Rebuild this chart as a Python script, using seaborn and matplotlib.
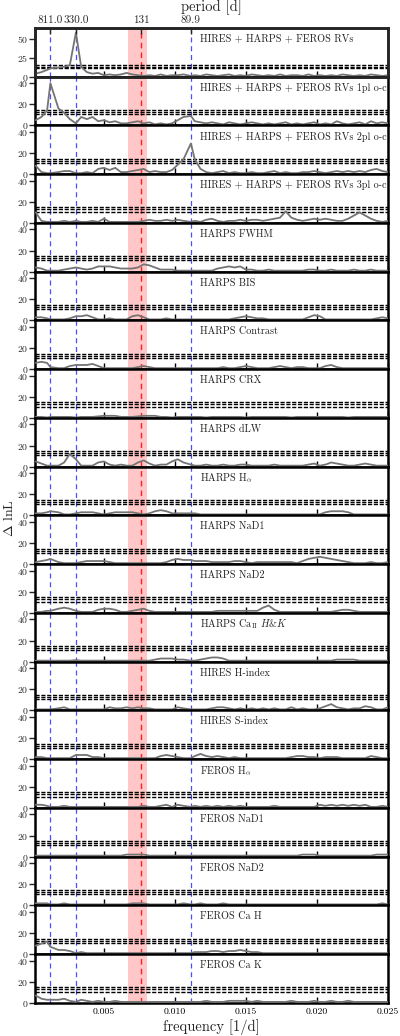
import numpy as np
import pandas as pd
import matplotlib
matplotlib.use('Agg')
import matplotlib.pyplot as plt
import seaborn as sns

sns.set_style('ticks')
plt.rcParams['font.family'] = ['cmr10', 'DejaVu Serif']
plt.rcParams['mathtext.fontset'] = 'cm'
plt.rcParams['axes.formatter.use_mathtext'] = True
plt.rcParams['axes.unicode_minus'] = False

# frequency grid [1/d], with the three signal frequencies on it
freq = np.arange(0.0002, 0.02501, 0.0004)
freq[3], freq[7], freq[27] = 1 / 811.0, 1 / 330.0, 1 / 89.9

periods = [811.0, 330.0, 131, 89.9]
period_labels = ['811.0', '330.0', '131', '89.9']
blue_periods = [811.0, 330.0, 89.9]
red_period = 131
rot_band = (0.0067, 0.00805)
fap_levels = [10.8, 12.8, 14.8]

names = [
    'HIRES + HARPS + FEROS RVs',
    'HIRES + HARPS + FEROS RVs 1pl o-c',
    'HIRES + HARPS + FEROS RVs 2pl o-c',
    'HIRES + HARPS + FEROS RVs 3pl o-c',
    'HARPS FWHM',
    'HARPS BIS',
    'HARPS Contrast',
    'HARPS CRX',
    'HARPS dLW',
    r'HARPS H$_\alpha$',
    'HARPS NaD1',
    'HARPS NaD2',
    r'HARPS Ca$_{\mathrm{II}}$ $H$&$K$',
    'HIRES H-index',
    'HIRES S-index',
    r'FEROS H$_\alpha$',
    'FEROS NaD1',
    'FEROS NaD2',
    'FEROS Ca H',
    'FEROS Ca K',
]

rv_all = [4, 6, 9, 11, 12, 13, 15, 58, 13, 6, 4, 5, 2, 3, 2, 3,
          5, 3, 2, 1, 2, 1, 3, 1, 2, 2, 3, 1, 2, 1, 3, 2,
          1, 2, 3, 1, 2, 1, 3, 2, 1, 2, 1, 3, 1, 2, 2, 1,
          3, 1, 2, 1, 2, 1, 3, 2, 1, 2, 1, 3, 2, 1, 2]
rv_1pl = [5, 8, 14, 40, 16, 12, 6, 2, 8, 6, 8, 4, 5, 3, 4, 2,
          2, 3, 4, 2, 3, 1, 2, 1, 2, 5, 8, 9, 4, 3, 2, 3,
          2, 1, 3, 2, 1, 2, 3, 2, 1, 2, 1, 2, 3, 1, 2, 1,
          2, 3, 1, 2, 1, 4, 2, 1, 2, 3, 1, 4, 2, 3, 2]
rv_2pl = [8, 2, 1, 1, 2, 3, 3, 1, 1, 2, 1, 5, 6, 4, 6, 2,
          2, 3, 4, 5, 2, 3, 2, 2, 4, 9, 14, 29, 14, 5, 2, 1,
          2, 3, 1, 2, 1, 1, 2, 1, 1, 2, 3, 1, 2, 1, 1, 2,
          2, 3, 2, 1, 2, 3, 2, 3, 2, 3, 2, 4, 5, 3, 2]
rv_3pl = [10, 2, 1, 1, 1, 2, 1, 2, 1, 1, 2, 1, 4, 1, 1, 1,
          1, 1, 1, 2, 3, 2, 2, 3, 2, 3, 2, 1, 2, 1, 3, 4,
          2, 1, 2, 2, 3, 2, 3, 3, 2, 3, 4, 5, 11, 5, 3, 2,
          3, 4, 3, 4, 3, 2, 2, 4, 7, 10, 7, 4, 2, 1, 2]
harps_fwhm = [4, 3, 1, 1, 1, 2, 3, 4, 3, 2, 3, 5, 5, 5, 4, 3,
              3, 3, 4, 7, 6, 4, 2, 2, 2, 1, 1, 1, 1, 1, 1, 1,
              3, 4, 5, 4, 5, 2, 2, 1, 1, 2, 1, 1, 1, 1, 1, 1,
              2, 2, 1, 1, 2, 1, 1, 1, 2, 1, 1, 2, 1, 1, 1]
harps_bis = [3, 3, 2, 1, 1, 1, 2, 4, 4, 5, 3, 1, 1, 2, 1, 1,
             1, 4, 5, 3, 1, 1, 1, 2, 1, 1, 1, 1, 1, 1, 1, 1,
             1, 1, 1, 2, 3, 4, 3, 2, 2, 1, 1, 1, 1, 1, 1, 1,
             3, 5, 4, 1, 1, 1, 1, 1, 1, 1, 1, 1, 2, 3, 2]
harps_contrast = [6, 7, 6, 2, 1, 1, 3, 4, 4, 4, 5, 3, 1, 1, 1, 1,
                  1, 1, 2, 3, 2, 1, 1, 1, 1, 1, 1, 1, 1, 1, 1, 1,
                  1, 2, 1, 1, 2, 3, 2, 1, 1, 1, 2, 3, 2, 1, 2, 2,
                  1, 1, 1, 3, 4, 2, 1, 1, 1, 1, 1, 1, 1, 1, 1]
harps_crx = [1, 1, 0.5, 1, 1, 1, 1, 0.5, 1, 1, 1, 1.5, 2, 2, 2, 1,
             1, 1, 1.5, 2, 2, 2, 1, 1, 0.5, 1, 1, 1, 1, 1, 0.5, 1,
             1, 1, 1, 1, 1, 0.5, 1, 1, 1, 1, 1, 1, 1, 0.5, 1, 1,
             1, 1, 1, 1, 1, 1, 1, 0.5, 1, 1, 1, 1, 1, 1, 1]
harps_dlw = [5, 3, 1, 1, 1, 4, 12, 7, 1, 1, 1, 4, 5, 2, 1, 2,
             1, 1, 4, 6, 3, 1, 2, 2, 5, 7, 4, 2, 1, 1, 2, 1,
             1, 2, 1, 1, 2, 2, 1, 1, 1, 1, 2, 1, 1, 1, 1, 1,
             2, 3, 1, 2, 4, 3, 2, 1, 1, 2, 3, 2, 1, 1, 1]
harps_halpha = [2, 2, 3, 4, 3, 1, 1, 2, 3, 3, 3, 2, 1, 2, 3, 3,
                3, 3, 2, 1, 2, 4, 5, 4, 2, 2, 2, 2, 2, 1, 1, 1,
                1, 1, 1, 1, 1, 1, 1, 1, 1, 1, 1, 1, 1, 1, 1, 1,
                1, 1, 1, 3, 4, 4, 4, 3, 1, 1, 1, 1, 1, 1, 1]
harps_nad1 = [2, 3, 4, 5, 2, 1, 1, 1, 2, 3, 3, 3, 3, 2, 1, 1,
              1, 1, 1, 1, 1, 1, 1, 2, 4, 5, 4, 4, 3, 3, 3, 2,
              2, 2, 2, 3, 3, 2, 1, 2, 2, 2, 2, 2, 2, 2, 1, 3,
              5, 6, 7, 6, 5, 4, 3, 2, 1, 1, 1, 2, 1, 1, 2]
harps_nad2 = [1, 1, 2, 2, 4, 5, 4, 2, 1, 1, 1, 3, 4, 4, 3, 1,
              1, 2, 3, 4, 2, 1, 1, 1, 1, 1, 1, 1, 1, 1, 1, 1,
              2, 2, 2, 2, 2, 2, 2, 2, 5, 7, 3, 1, 1, 1, 1, 1,
              1, 1, 1, 1, 1, 2, 3, 3, 2, 1, 1, 1, 1, 1, 1]
harps_cahk = [1, 1, 1, 1, 1, 1, 1, 1.5, 1, 1, 1, 1, 1, 1, 1, 1,
              1, 1, 1, 1, 1, 2, 3, 3, 3, 2, 2, 1, 1, 2, 3, 4,
              4, 3, 1, 1, 1, 1, 1, 1, 1, 1, 1, 1, 1, 1, 1, 1,
              1, 1, 1, 1, 1, 2, 2, 2, 2, 1, 1, 1, 1, 1, 1]
hires_hindex = [1, 1, 1, 1, 2, 3, 1, 1, 1, 1, 1, 1, 1, 3, 2, 2,
                3, 2, 3, 2, 2, 1, 1, 1, 1, 3, 2, 1, 1, 1, 1, 2,
                3, 3, 2, 1, 2, 1, 2, 1, 2, 1, 2, 1, 1, 3, 1, 2,
                1, 1, 2, 4, 6, 3, 2, 1, 2, 2, 4, 3, 1, 1, 3]
hires_sindex = [2, 2, 1, 1, 1, 1, 1, 4, 4, 4, 2, 2, 1, 1, 1, 1,
                1, 1, 1, 1, 1, 1, 3, 4, 3, 2, 1, 1, 3, 5, 3, 2,
                3, 2, 1, 2, 1, 1, 1, 1, 1, 1, 1, 1, 1, 2, 3, 3,
                2, 2, 1, 2, 2, 2, 1, 1, 1, 1, 1, 3, 2, 1, 1]
feros_halpha = [3, 3, 2, 1, 1, 2, 1, 1, 1, 1, 1, 1, 1, 1, 1, 1,
                1, 1, 1, 2, 1, 1, 2, 3, 1, 3, 2, 1, 2, 1, 2, 1,
                2, 1, 2, 1, 2, 1, 1, 1, 1, 1, 2, 1, 1, 1, 1, 1,
                1, 1, 3, 2, 3, 2, 3, 2, 3, 2, 3, 1, 1, 2, 1]
feros_nad1 = [1, 1, 1, 1, 1, 1, 1, 1, 1, 1, 1, 1, 1, 1, 1, 1,
              2, 2, 2, 2, 1, 1, 1, 1, 1, 1, 1, 1, 1, 1, 1, 1,
              1, 1, 1, 1, 1, 1, 1, 1, 1, 1, 1, 1, 1, 1, 1, 2,
              2, 2, 1, 1, 1, 1, 1, 1, 1, 1, 1, 1, 2, 2, 2]
feros_nad2 = [2, 2, 2, 1, 1, 2, 1, 1, 1, 1, 1, 1, 1, 1, 1, 1,
              1, 2, 2, 2, 1, 1, 1, 1, 1, 1, 2, 1, 1, 2, 1, 1,
              1, 2, 1, 1, 1, 1, 1, 1, 1, 1, 1, 1, 1, 1, 1, 1,
              1, 1, 1, 1, 1, 1, 1, 1, 1, 1, 1, 1, 1, 2, 1]
feros_cah = [8, 10, 12, 7, 4, 4, 3, 1, 2, 1, 1, 1, 1, 1, 1, 1,
             1, 1, 1, 1, 1, 1, 1, 1, 1, 1, 1, 1, 2, 2, 2, 3,
             3, 2, 3, 3, 4, 3, 2, 2, 1, 1, 1, 1, 1, 1, 1, 1,
             1, 1, 1, 1, 1, 1, 1, 1, 1, 1, 1, 1, 1, 1, 1]
feros_cak = [7, 4, 3, 3, 3, 4, 2, 1, 3, 2, 1, 2, 1, 1, 2, 1,
             1, 1, 1, 1, 1, 1, 1, 1, 1, 1, 1, 1, 1, 1, 2, 1,
             1, 1, 2, 2, 2, 2, 1, 2, 1, 1, 1, 1, 1, 2, 1, 1,
             1, 2, 1, 1, 2, 1, 1, 2, 1, 1, 1, 1, 1, 1, 1]

series = [rv_all, rv_1pl, rv_2pl, rv_3pl, harps_fwhm, harps_bis, harps_contrast,
          harps_crx, harps_dlw, harps_halpha, harps_nad1, harps_nad2, harps_cahk,
          hires_hindex, hires_sindex, feros_halpha, feros_nad1, feros_nad2,
          feros_cah, feros_cak]

xmin, xmax = 0.00015, 0.025

fig = plt.figure(figsize=(4, 10.36), dpi=100)
axes = fig.subplots(len(series), 1, sharex=True, gridspec_kw=dict(hspace=0))
fig.subplots_adjust(left=0.0875, right=0.97, top=0.973, bottom=0.0319)

for i, (ax, name, vals) in enumerate(zip(axes, names, series)):
    df = pd.DataFrame({'freq': freq, 'dlnL': vals})
    ax.axvspan(rot_band[0], rot_band[1], color='#ffb0b0', alpha=0.7, lw=0, zorder=0)
    for p in blue_periods:
        ax.axvline(1 / p, color='#4d4dff', ls=(0, (4, 3)), lw=0.9, zorder=1)
    ax.axvline(1 / red_period, color='#ff2020', ls=(0, (4, 3)), lw=1.0, zorder=1)
    for lev in fap_levels:
        ax.axhline(lev, color='black', ls=(0, (3, 1.2)), lw=1.0, zorder=2)
    sns.lineplot(data=df, x='freq', y='dlnL', ax=ax, color='#747474', lw=1.3, zorder=3)
    ax.set_xlim(xmin, xmax)
    if i == 0:
        ax.set_ylim(0, 64)
        ax.set_yticks([0, 25, 50])
    else:
        ax.set_ylim(0, 46)
        ax.set_yticks([0, 20, 40])
    ax.set_xlabel('')
    ax.set_ylabel('')
    ax.set_xticks([0.005, 0.010, 0.015, 0.020, 0.025])
    ax.tick_params(axis='x', direction='in', length=4, width=1, labelsize=7, colors='black')
    ax.tick_params(axis='y', direction='out', length=4, width=1, labelsize=7, pad=1)
    for s in ax.spines.values():
        s.set_linewidth(1.8)
        s.set_color('black')
        s.set_visible(True)
    ax.text(0.467, 0.77, name, transform=ax.transAxes, ha='left', va='center',
            fontsize=7.3, color='#222222')

axes[-1].xaxis.set_major_formatter(matplotlib.ticker.FormatStrFormatter('%.3f'))
axes[-1].set_xlabel('frequency [1/d]', fontsize=10.5, labelpad=2)

top = axes[0].twiny()
top.set_xlim(xmin, xmax)
top.set_xticks([1 / p for p in periods])
top.set_xticklabels(period_labels)
top.tick_params(axis='x', direction='in', length=4, width=1, labelsize=8, pad=2)
top.set_xlabel('period [d]', fontsize=10.5, labelpad=3)
for s in top.spines.values():
    s.set_linewidth(1.8)

fig.text(0.022, 0.5, r'$\Delta$ lnL', rotation=90, ha='center', va='center', fontsize=10)

fig.savefig('out.png', dpi=100)
